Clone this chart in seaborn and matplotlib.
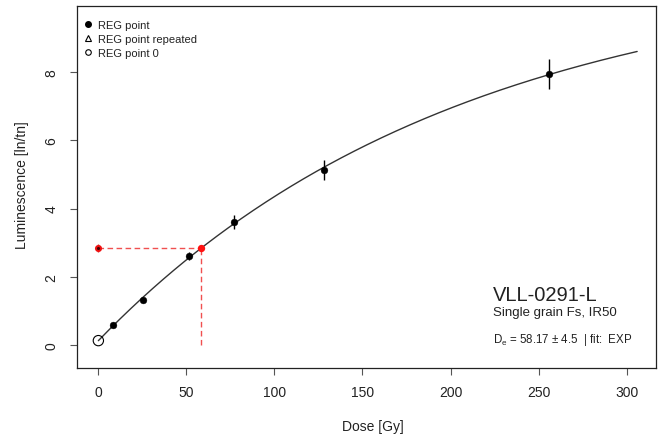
import numpy as np
import pandas as pd
import matplotlib
matplotlib.use("Agg")
import matplotlib.pyplot as plt
from matplotlib.lines import Line2D
import seaborn as sns

# ---------------- data ----------------
reg_dose = [0.0, 8.5, 25.6, 51.2, 76.8, 128.0, 256.0]
reg_lum = [0.12, 0.58, 1.32, 2.61, 3.61, 5.13, 7.95]
reg_err = [0.0, 0.05, 0.06, 0.12, 0.20, 0.30, 0.45]
natural_lum = 2.84
natural_err = 0.12
de_value = 58.17
de_error = 4.5
curve_max_dose = 306.0
legend_labels = ["REG point", "REG point repeated", "REG point 0"]
x_ticks = [0, 50, 100, 150, 200, 250, 300]
y_ticks = [0, 2, 4, 6, 8]
sample_name = "VLL-0291-L"
sample_desc = "Single grain Fs, IR50"
fit_name = "EXP"

# ---------------- fit EXP model y = A + B*exp(-x/b) ----------------
dose_arr = np.array(reg_dose)
lum_arr = np.array(reg_lum)
best = None
for b in np.linspace(50, 1500, 14501):
    E = np.exp(-dose_arr / b)
    M = np.column_stack([np.ones_like(E), E])
    coef, *_ = np.linalg.lstsq(M, lum_arr, rcond=None)
    sse = float(np.sum((M @ coef - lum_arr) ** 2))
    if best is None or sse < best[0]:
        best = (sse, b, coef)
_, b_fit, (A_fit, B_fit) = best
curve_x = np.linspace(0, curve_max_dose, 300)
curve_y = A_fit + B_fit * np.exp(-curve_x / b_fit)
curve_df = pd.DataFrame({"dose": curve_x, "lum": curve_y})

reg_df = pd.DataFrame({"dose": reg_dose[1:], "lum": reg_lum[1:]})
zero_df = pd.DataFrame({"dose": reg_dose[:1], "lum": reg_lum[:1]})

# ---------------- styling ----------------
sns.set_theme(style="white")
plt.rcParams["font.family"] = ["Liberation Sans", "DejaVu Sans"]
plt.rcParams["mathtext.fontset"] = "custom"
plt.rcParams["mathtext.rm"] = "Liberation Sans"
plt.rcParams["mathtext.it"] = "Liberation Sans:italic"

W, H = 659, 439
fig = plt.figure(figsize=(W / 100, H / 100), dpi=100)
L, R, T, B = 76.7, 656.0, 7.3, 369.0
ax = fig.add_axes([L / W, 1 - B / H, (R - L) / W, (B - T) / H])

txt_col = "#222222"

# fit curve
sns.lineplot(data=curve_df, x="dose", y="lum", ax=ax, color="#333333",
             lw=1.0, sort=False, estimator=None, zorder=2)

# De construction (dashed red)
ax.plot([0, de_value], [natural_lum, natural_lum], color="#f05050",
        lw=1.0, ls=(0, (4, 2.5)), zorder=3)
ax.plot([de_value, de_value], [0, natural_lum], color="#f05050",
        lw=1.0, ls=(0, (4, 2.5)), zorder=3)

# error bars
ax.vlines(reg_dose[1:], np.array(reg_lum[1:]) - np.array(reg_err[1:]),
          np.array(reg_lum[1:]) + np.array(reg_err[1:]), color="black",
          lw=1.0, zorder=4)
ax.vlines([0], [natural_lum - natural_err], [natural_lum + natural_err],
          color="#e03030", lw=1.0, zorder=4)

# regenerative points
sns.scatterplot(data=reg_df, x="dose", y="lum", ax=ax, color="black",
                s=24, edgecolor="black", linewidth=0.3, zorder=5, legend=False)
sns.scatterplot(data=zero_df, x="dose", y="lum", ax=ax, facecolor="none",
                edgecolor="black", s=55, linewidth=0.8, zorder=5, legend=False)
# natural point and De point
ax.scatter([0], [natural_lum], s=26, color="#ee1111", zorder=6, linewidths=0)
ax.scatter([0], [natural_lum], s=5, color="#440000", zorder=7, linewidths=0)
ax.scatter([de_value], [natural_lum], s=28, color="#ff1010", zorder=6,
           linewidths=0)

ax.set_xlim(-12.3, 316.7)
ax.set_ylim(-0.684, 9.94)
ax.set_xticks(x_ticks)
ax.set_yticks(y_ticks)
ax.set_xticklabels([str(t) for t in x_ticks])
ax.set_yticklabels([str(t) for t in y_ticks], rotation=90, va="center")
ax.tick_params(axis="both", direction="out", length=5, width=0.8,
               color="#555555", labelsize=10, labelcolor=txt_col,
               bottom=True, left=True)
ax.tick_params(axis="x", pad=7)
ax.tick_params(axis="y", pad=8)
for sp in ax.spines.values():
    sp.set_color("#222222")
    sp.set_linewidth(0.9)
ax.set_xlabel("")
ax.set_ylabel("")

# axis labels
fig.text(373 / W, 1 - 427 / H, "Dose [Gy]", ha="center", va="center",
         fontsize=10, color=txt_col)
fig.text(26 / W, 1 - 185 / H, "Luminescence [ln/tn]", rotation=90,
         rotation_mode="anchor", ha="center", va="baseline", fontsize=10,
         color=txt_col)

# legend
handles = [
    Line2D([], [], ls="none", marker="o", color="black", markersize=4),
    Line2D([], [], ls="none", marker="^", markerfacecolor="none",
           markeredgecolor="black", markersize=5, markeredgewidth=0.8),
    Line2D([], [], ls="none", marker="o", markerfacecolor="none",
           markeredgecolor="black", markersize=4, markeredgewidth=0.8),
]
leg_left = (83.9 - L) / (R - L)
leg_top = (B - 20.6) / (B - T)
leg = ax.legend(handles, legend_labels, loc="upper left",
                bbox_to_anchor=(leg_left, leg_top), frameon=False,
                fontsize=8, handlelength=0.8, handletextpad=0.45,
                labelspacing=0.38, borderpad=0, borderaxespad=0)
for t in leg.get_texts():
    t.set_color(txt_col)

# annotation block
fig.text(493.3 / W, 1 - 300.7 / H, sample_name, ha="left", va="baseline",
         fontsize=14.5, color=txt_col)
fig.text(493.3 / W, 1 - 316 / H, sample_desc, ha="left", va="baseline",
         fontsize=9.5, color=txt_col)
fig.text(493.3 / W, 1 - 342.5 / H,
         r"D$_{\mathrm{e}}$ = %.2f ± %.1f  | fit:  %s" % (de_value, de_error, fit_name),
         ha="left", va="baseline", fontsize=8.3, color=txt_col)

fig.savefig("out.png", dpi=100)
